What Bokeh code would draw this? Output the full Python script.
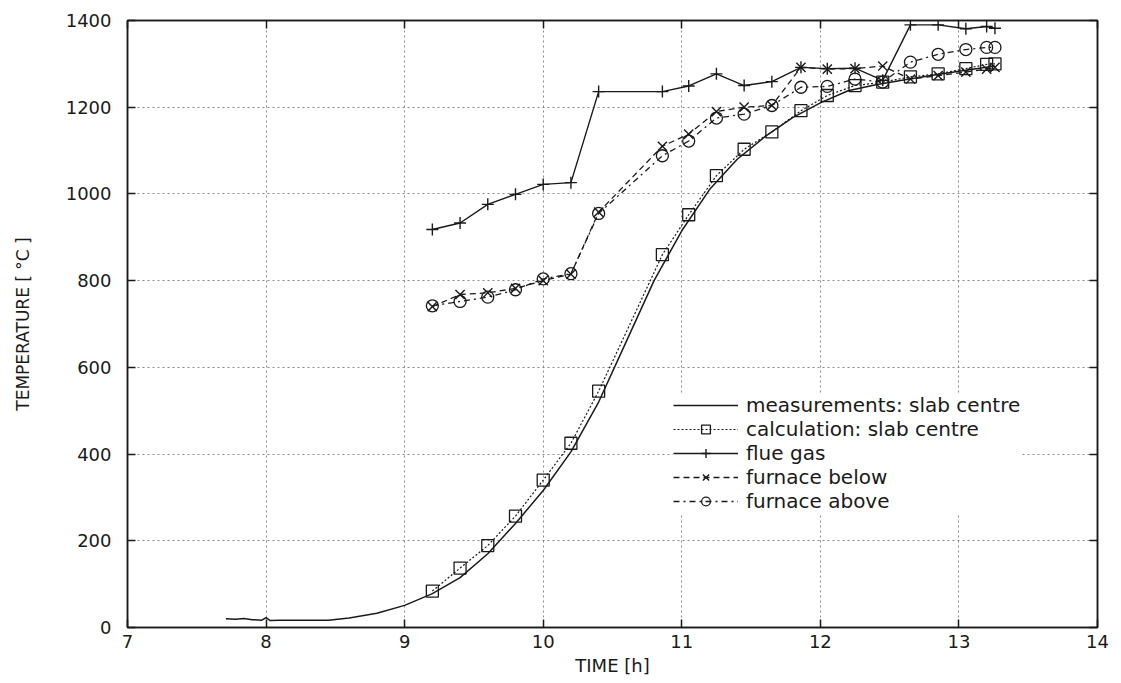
from bokeh.plotting import figure
from bokeh.models import (Legend, LegendItem, LinearAxis, FixedTicker,
                          CustomJSTickFormatter, Range1d)
from bokeh.embed import file_html
from bokeh.resources import INLINE

# ---------------- data ----------------
meas_t = [7.71, 7.78, 7.84, 7.90, 7.97, 8.0, 8.03, 8.1, 8.3, 8.45, 8.6, 8.8,
          9.0, 9.2, 9.4, 9.6, 9.8, 10.0, 10.2, 10.4, 10.6, 10.8, 11.0, 11.2,
          11.4, 11.6, 11.8, 12.0, 12.2, 12.4, 12.6, 12.8, 13.0, 13.26]
meas_v = [20, 19, 21, 18, 17, 23, 16, 17, 17, 17, 22, 33,
          51, 78, 115, 170, 240, 316, 405, 520, 660, 800, 915, 1010,
          1080, 1132, 1176, 1210, 1238, 1252, 1263, 1273, 1283, 1295]

t = [9.2, 9.4, 9.6, 9.8, 10.0, 10.2, 10.4, 10.86, 11.05, 11.25, 11.45,
     11.65, 11.86, 12.05, 12.25, 12.45, 12.65, 12.85, 13.05, 13.2, 13.26]
calc_v = [84, 137, 189, 257, 340, 425, 545, 860, 952, 1042, 1103,
          1143, 1192, 1227, 1250, 1258, 1270, 1277, 1289, 1299, 1300]
flue_v = [918, 933, 976, 999, 1022, 1026, 1236, 1236, 1249, 1277, 1250,
          1259, 1292, 1289, 1290, 1262, 1390, 1390, 1381, 1386, 1382]
below_v = [740, 768, 772, 782, 800, 815, 958, 1110, 1138, 1190, 1200,
           1204, 1292, 1288, 1289, 1295, 1265, 1273, 1281, 1288, 1292]
above_v = [742, 752, 762, 779, 804, 816, 955, 1088, 1122, 1175, 1184,
           1204, 1246, 1248, 1265, 1258, 1304, 1322, 1333, 1338, 1338]

x_ticks = [7, 8, 9, 10, 11, 12, 13, 14]
y_ticks = [0, 200, 400, 600, 800, 1000, 1200, 1400]

labels = ["measurements: slab centre", "calculation: slab centre",
          "flue gas", "furnace below", "furnace above"]

FONT = "DejaVu Sans"
INK = "#1a1a1a"

p = figure(width=1121, height=683, output_backend="svg", toolbar_location=None,
           x_range=Range1d(7, 14), y_range=Range1d(0, 1400),
           min_border_left=127, min_border_right=24, min_border_top=20,
           min_border_bottom=56, background_fill_color="white",
           border_fill_color="white")

p.outline_line_color = INK
p.outline_line_width = 1.5

# axes
for ax in (p.xaxis[0], p.yaxis[0]):
    ax.axis_line_color = INK
    ax.axis_line_width = 1.5
    ax.major_tick_in = 8
    ax.major_tick_out = 0
    ax.major_tick_line_color = INK
    ax.major_tick_line_width = 1.5
    ax.minor_tick_line_color = None
    ax.major_label_text_font = FONT
    ax.major_label_text_font_size = "18px"
    ax.major_label_text_color = INK
    ax.axis_label_text_font = FONT
    ax.axis_label_text_font_style = "normal"
    ax.axis_label_text_color = INK

p.xaxis[0].ticker = FixedTicker(ticks=x_ticks)
p.yaxis[0].ticker = FixedTicker(ticks=y_ticks)
p.xaxis[0].axis_label = "TIME [h]"
p.yaxis[0].axis_label = "TEMPERATURE [ °C ]"
p.xaxis[0].axis_label_text_font_size = "18px"
p.yaxis[0].axis_label_text_font_size = "17px"
p.xaxis[0].major_label_standoff = 7
p.yaxis[0].major_label_standoff = 16
p.xaxis[0].axis_label_standoff = 4
p.yaxis[0].axis_label_standoff = 30

# mirrored tick axes on top and right (no labels)
empty = CustomJSTickFormatter(code="return ''")
top = LinearAxis(ticker=FixedTicker(ticks=x_ticks), formatter=empty)
right = LinearAxis(ticker=FixedTicker(ticks=y_ticks), formatter=empty)
for ax in (top, right):
    ax.axis_line_color = INK
    ax.axis_line_width = 1.5
    ax.major_tick_in = 8
    ax.major_tick_out = 0
    ax.major_tick_line_color = INK
    ax.major_tick_line_width = 1.5
    ax.minor_tick_line_color = None
    ax.major_label_standoff = 0
    ax.major_label_text_font_size = "1px"
p.add_layout(top, "above")
p.add_layout(right, "right")

# grid
for g in (p.xgrid[0], p.ygrid[0]):
    g.grid_line_color = "#8a8a8a"
    g.grid_line_dash = "2 3"
    g.grid_line_width = 1
p.xgrid[0].ticker = FixedTicker(ticks=x_ticks)
p.ygrid[0].ticker = FixedTicker(ticks=y_ticks)

# series
r_meas = p.line(meas_t, meas_v, line_color=INK, line_width=1.5)

r_calc_l = p.line(t, calc_v, line_color=INK, line_width=1.2, line_dash="2 2")
r_calc_m = p.scatter(t, calc_v, marker="square", size=12, fill_color=None,
                     line_color=INK, line_width=1.3)

r_flue_l = p.line(t, flue_v, line_color=INK, line_width=1.4)
r_flue_m = p.scatter(t, flue_v, marker="cross", size=12,
                     line_color=INK, line_width=1.4)

r_below_l = p.line(t, below_v, line_color=INK, line_width=1.3, line_dash="6 4")
r_below_m = p.scatter(t, below_v, marker="x", size=13,
                      line_color=INK, line_width=1.4)

r_above_l = p.line(t, above_v, line_color=INK, line_width=1.3,
                   line_dash="6 4 2 4")
r_above_m = p.scatter(t, above_v, marker="circle", size=12, fill_color=None,
                      line_color=INK, line_width=1.3)

legend = Legend(items=[
    LegendItem(label=labels[0], renderers=[r_meas]),
    LegendItem(label=labels[1], renderers=[r_calc_l, r_calc_m]),
    LegendItem(label=labels[2], renderers=[r_flue_l, r_flue_m]),
    LegendItem(label=labels[3], renderers=[r_below_l, r_below_m]),
    LegendItem(label=labels[4], renderers=[r_above_l, r_above_m]),
], location=(546, 114))
legend.label_text_font = FONT
legend.label_text_font_size = "20px"
legend.label_text_color = INK
legend.glyph_width = 65
legend.glyph_height = 22
legend.label_height = 22
legend.spacing = 0
legend.padding = 4
legend.margin = 0
legend.label_standoff = 8
legend.border_line_color = None
legend.background_fill_color = "white"
legend.background_fill_alpha = 1.0
p.add_layout(legend, "center")

open("out.html", "w").write(file_html(p, INLINE))
